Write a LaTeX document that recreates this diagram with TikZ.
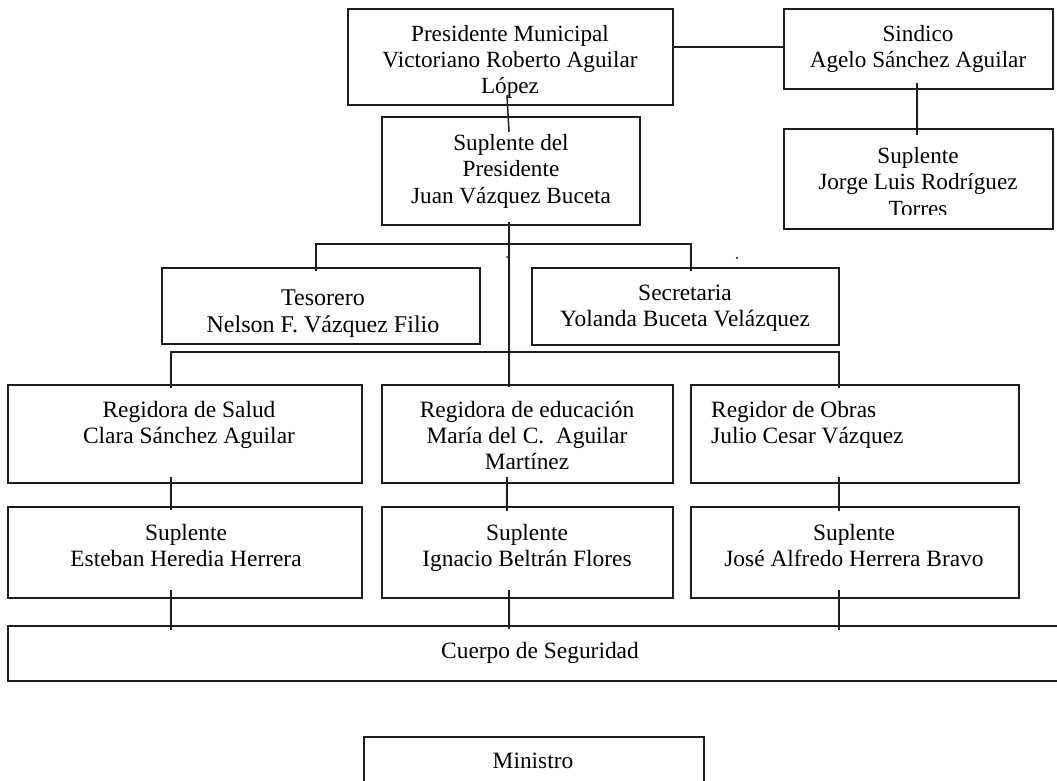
\documentclass[tikz,border=0pt]{standalone}
\usepackage{fontspec}
\setmainfont{Liberation Serif}
\usetikzlibrary{fit}
\newcommand{\mylines}[1]{\begin{tabular}[t]{@{}c@{}}#1\end{tabular}}
\newcommand{\mylinesl}[1]{\begin{tabular}[t]{@{}l@{}}#1\end{tabular}}
\definecolor{ink}{HTML}{1E1E1E}
\tikzset{
  box/.style={draw=ink, line width=1.8pt, inner sep=0pt, outer sep=0pt},
  conn/.style={draw=ink, line width=1.5pt},
  txt/.style={inner sep=0pt, anchor=base, text=black, font=\fontsize{23.4}{26.2}\selectfont},
  txtl/.style={txt, anchor=base west},
  bigtxt/.style={txt, font=\fontsize{24}{27}\selectfont},
}
\begin{document}
\begin{tikzpicture}[x=1pt,y=-1pt]
\useasboundingbox (0,0) rectangle (1057,781);
\clip (0,0) rectangle (1057,781);
\fill[white] (0,0) rectangle (1057,781);

% boxes
\node[box, fit={(348,9) (673,105)}] (pres) {};
\node[box, fit={(784,9) (1053,89)}] (sind) {};
\node[box, fit={(382,117) (640,225)}] (suppres) {};
\node[box, fit={(784,129) (1053,229)}] (supsind) {};
\node[box, fit={(162,268) (480,344)}] (teso) {};
\node[box, fit={(532,268) (839,345)}] (secr) {};
\node[box, fit={(8,385) (362,483)}] (regs) {};
\node[box, fit={(382,385) (673,483)}] (rege) {};
\node[box, fit={(691,385) (1019,483)}] (rego) {};
\node[box, fit={(8,507) (362,598)}] (sup1) {};
\node[box, fit={(382,507) (673,598)}] (sup2) {};
\node[box, fit={(691,507) (1019,598)}] (sup3) {};
\node[box, fit={(8,626) (1075,681)}] (cuerpo) {};
\node[box, fit={(364,737) (704,800)}] (mini) {};

% texts
\node[txt, font=\fontsize{23.2}{25.6}\selectfont] (presT) at (510,42) {\mylines{Presidente Municipal\\Victoriano Roberto Aguilar\\López}};
\node[txt, font=\fontsize{23.2}{26.5}\selectfont] (suppresT) at (511,150) {\mylines{Suplente del\\Presidente\\Juan Vázquez Buceta}};
\node[txt, font=\fontsize{23.2}{26}\selectfont] (sindT) at (918,42) {\mylines{Sindico\\Agelo Sánchez Aguilar}};
\begin{scope}
\clip (784,129) rectangle (1053,214);
\node[txt, font=\fontsize{23.2}{26.5}\selectfont] (supsindT) at (918,163) {\mylines{Suplente\\Jorge Luis Rodríguez\\Torres}};
\end{scope}
\node[bigtxt] (tesoT) at (323,305) {\mylines{Tesorero\\Nelson F. Vázquez Filio}};
\node[txt] (secrT) at (685,300) {\mylines{Secretaria\\Yolanda Buceta Velázquez}};
\node[txt] (regsT) at (189,417) {\mylines{Regidora de Salud\\Clara Sánchez Aguilar}};
\node[txt] (regeT) at (527,417) {\mylines{Regidora de educación\\María del C.\ \ Aguilar\\Martínez}};
\node[txtl] (regoT) at (711,417) {\mylinesl{Regidor de Obras\\Julio Cesar Vázquez}};
\node[txt] (sup1T) at (186,540) {\mylines{Suplente\\Esteban Heredia Herrera}};
\node[txt] (sup2T) at (527,540) {\mylines{Suplente\\Ignacio Beltrán Flores}};
\node[txt] (sup3T) at (854,540) {\mylines{Suplente\\José Alfredo Herrera Bravo}};
\node[txt] (cuerpoT) at (540,658) {Cuerpo de Seguridad};
\node[txt] (miniT) at (533,768) {Ministro};

% connector end points
\coordinate (a1) at (507,95);   \coordinate (a2) at (509,132);
\coordinate (b1) at (673,47);   \coordinate (b2) at (784,47);
\coordinate (c1) at (917,83);   \coordinate (c2) at (917,135);
\coordinate (d1) at (509,222);  \coordinate (d2) at (509,387);
\coordinate (e1) at (316,271);  \coordinate (e2) at (316,244);
\coordinate (e3) at (691,244);  \coordinate (e4) at (691,271);
\coordinate (f1) at (171,388);  \coordinate (f2) at (171,352);
\coordinate (f3) at (839,352);  \coordinate (f4) at (839,388);
\coordinate (g1) at (171,477);  \coordinate (g2) at (171,510);
\coordinate (h1) at (507,477);  \coordinate (h2) at (507,511);
\coordinate (i1) at (839,477);  \coordinate (i2) at (839,511);
\coordinate (j1) at (171,590);  \coordinate (j2) at (171,630);
\coordinate (k1) at (509,590);  \coordinate (k2) at (509,629);
\coordinate (l1) at (839,590);  \coordinate (l2) at (839,630);

\draw[conn] (a1) -- (a2);
\draw[conn] (b1) -- (b2);
\draw[conn] (c1) -- (c2);
\draw[conn] (d1) -- (d2);
\draw[conn] (e1) -- (e2) -- (e3) -- (e4);
\draw[conn] (f1) -- (f2) -- (f3) -- (f4);
\draw[conn] (g1) -- (g2);
\draw[conn] (h1) -- (h2);
\draw[conn] (i1) -- (i2);
\draw[conn] (j1) -- (j2);
\draw[conn] (k1) -- (k2);
\draw[conn] (l1) -- (l2);

% stray dots
\fill[ink] (737,258) circle (1.1);
\fill[ink] (507,257) circle (1.0);
\end{tikzpicture}
\end{document}
